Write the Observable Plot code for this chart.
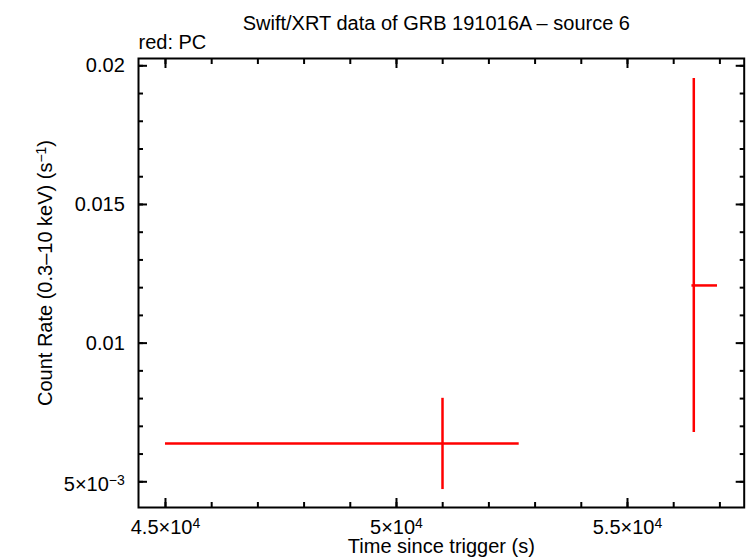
<!DOCTYPE html>
<html><head><meta charset="utf-8">
<script src="https://cdn.jsdelivr.net/npm/d3@7"></script>
<script src="https://cdn.jsdelivr.net/npm/@observablehq/plot@0.6"></script>
<style>body{margin:0;background:#fff;} svg{display:block}</style>
</head><body><div id="chart"></div>
<script>
// Data
const time   = [50996, 56435];
const timeLo = [45000, 56395];
const timeHi = [52656, 56948];
const rate   = [0.00638, 0.01208];
const rateLo = [0.00472, 0.00678];
const rateHi = [0.00801, 0.01954];

// Ticks and labels
const xMajor = [45000, 50000, 55000];
const xMajorLabels = ["4.5×10^{4}", "5×10^{4}", "5.5×10^{4}"];
const xMinor = d3.range(45000, 57001, 1000);
const yMajor = [0.005, 0.01, 0.015, 0.02];
const yMajorLabels = ["5×10^{−3}", "0.01", "0.015", "0.02"];
const yMinor = d3.range(5, 21).map(d => d / 1000);

const title = "Swift/XRT data of GRB 191016A – source 6";
const subtitle = "red: PC";
const xLabel = "Time since trigger (s)";
const yLabel = "Count Rate (0.3–10 keV) (s^{−1})";

const xDomain = [44416, 57526];
const yDomain = [0.004073, 0.020263];

const data = time.map((t, i) => ({t, lo: timeLo[i], hi: timeHi[i], r: rate[i], rlo: rateLo[i], rhi: rateHi[i]}));

const font = "'Liberation Sans', Arial, Helvetica, sans-serif";
const fs = 20;
const red = "#ff0000";

const plot = Plot.plot({
  width: 746, height: 558,
  marginLeft: 138, marginRight: 2.3, marginTop: 58, marginBottom: 51,
  style: {fontFamily: font, fontSize: fs + "px", background: "#fff", color: "#000", overflow: "visible"},
  x: {domain: xDomain, axis: null},
  y: {domain: yDomain, axis: null},
  marks: [
    Plot.ruleY(data, {y: "r", x1: "lo", x2: "hi", stroke: red, strokeWidth: 2.5}),
    Plot.ruleX(data, {x: "t", y1: "rlo", y2: "rhi", stroke: red, strokeWidth: 2.5}),
    // minor ticks (inward)
    Plot.axisX(xMinor, {anchor: "bottom", tickSize: -5, strokeWidth: 2, tickFormat: () => "", label: null}),
    Plot.axisX(xMinor, {anchor: "top", tickSize: -5, strokeWidth: 2, tickFormat: () => "", label: null}),
    Plot.axisY(yMinor, {anchor: "left", tickSize: -5, strokeWidth: 2, tickFormat: () => "", label: null}),
    Plot.axisY(yMinor, {anchor: "right", tickSize: -5, strokeWidth: 2, tickFormat: () => "", label: null}),
    // major ticks (inward)
    Plot.axisX(xMajor, {anchor: "bottom", tickSize: -9, strokeWidth: 2, tickFormat: () => "", label: null}),
    Plot.axisX(xMajor, {anchor: "top", tickSize: -9, strokeWidth: 2, tickFormat: () => "", label: null}),
    Plot.axisY(yMajor, {anchor: "left", tickSize: -9, strokeWidth: 2, tickFormat: () => "", label: null}),
    Plot.axisY(yMajor, {anchor: "right", tickSize: -9, strokeWidth: 2, tickFormat: () => "", label: null}),
    // tick labels
    Plot.axisX(xMajor, {anchor: "bottom", tickSize: 0, tickPadding: 12, fontSize: fs,
      tickFormat: d => xMajorLabels[xMajor.indexOf(d)], label: null}),
    Plot.axisY(yMajor, {anchor: "left", tickSize: 0, tickPadding: 13.7, fontSize: fs,
      tickFormat: d => yMajorLabels[yMajor.indexOf(d)], label: null}),
    // titles
    Plot.text([title], {frameAnchor: "top", lineAnchor: "middle", dx: -5, dy: -35.4, fontSize: fs, textAnchor: "middle"}),
    Plot.text([subtitle], {frameAnchor: "top-left", lineAnchor: "middle", dx: 0, dy: -16.1, fontSize: fs, textAnchor: "start"}),
    Plot.text([xLabel], {frameAnchor: "bottom", lineAnchor: "middle", dx: 0, dy: 39.3, fontSize: fs, textAnchor: "middle"}),
    Plot.text([yLabel], {frameAnchor: "left", lineAnchor: "middle", rotate: -90, dx: -93, dy: -10, fontSize: fs, textAnchor: "middle"}),
    Plot.frame({stroke: "#000", strokeWidth: 2})
  ]
});

// Render superscripts written as ^{...}
const NS = "http://www.w3.org/2000/svg";
plot.querySelectorAll("text").forEach(t => {
  const s = t.textContent;
  if (!s.includes("^{")) return;
  while (t.firstChild) t.removeChild(t.firstChild);
  const parts = s.split(/\^\{([^}]*)\}/);
  let shifted = false;
  parts.forEach((p, i) => {
    if (p === "") { return; }
    const ts = document.createElementNS(NS, "tspan");
    ts.textContent = p;
    if (i % 2 === 1) {
      ts.setAttribute("font-size", "14");
      ts.setAttribute("dy", "-6");
      shifted = true;
    } else if (shifted) {
      ts.setAttribute("dy", "6");
      shifted = false;
    }
    t.appendChild(ts);
  });
  const g = t.closest("g[aria-label]");
  if (g && /y-axis/.test(g.getAttribute("aria-label"))) {
    const tr = t.getAttribute("transform") || "";
    t.setAttribute("transform", tr + " translate(0,2.5)");
  }
});

document.getElementById("chart").appendChild(plot);
</script>
</body></html>
